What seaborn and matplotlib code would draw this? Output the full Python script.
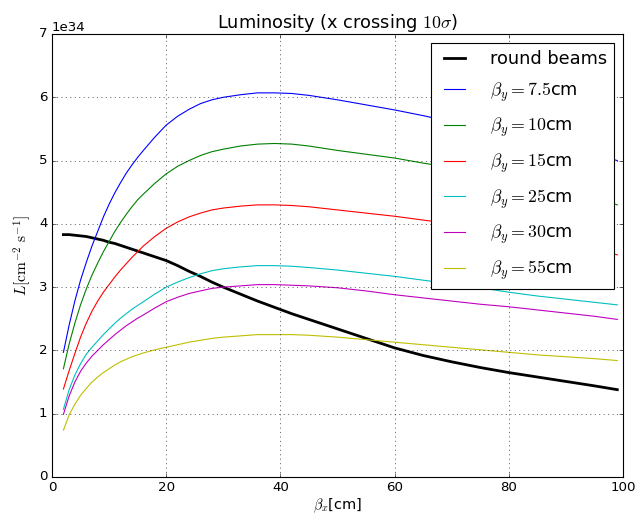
import matplotlib
matplotlib.use("Agg")
import matplotlib.pyplot as plt
import seaborn as sns
import numpy as np
import pandas as pd

plt.style.use("classic")
plt.rcParams["mathtext.fontset"] = "cm"

# beta_x values [cm]
beta_x = [2, 3, 4, 5, 6, 7, 8, 9, 10, 11, 12, 13, 14, 15, 16, 18, 20, 22, 24, 26,
          28, 30, 33, 36, 39, 42, 45, 50, 55, 60, 65, 70, 75, 80, 85, 90, 95, 99]

# luminosity in units of 1e34 cm^-2 s^-1
round_beams = [3.83, 3.83, 3.82, 3.81, 3.80, 3.78, 3.76, 3.74, 3.71, 3.69, 3.66, 3.63, 3.60, 3.57, 3.54,
               3.48, 3.42, 3.34, 3.25, 3.17, 3.08, 3.00, 2.89, 2.78, 2.68, 2.58, 2.49, 2.34, 2.19, 2.04,
               1.92, 1.82, 1.73, 1.65, 1.58, 1.51, 1.44, 1.38]
by_7p5 = [1.97, 2.40, 2.78, 3.11, 3.39, 3.65, 3.88, 4.11, 4.31, 4.49, 4.65, 4.80, 4.93, 5.05, 5.16,
          5.37, 5.56, 5.70, 5.81, 5.90, 5.96, 6.00, 6.04, 6.07, 6.07, 6.06, 6.03, 5.96, 5.88, 5.80,
          5.71, 5.61, 5.51, 5.41, 5.31, 5.20, 5.10, 5.00]
by_10 = [1.71, 2.10, 2.43, 2.72, 2.97, 3.19, 3.38, 3.56, 3.72, 3.88, 4.02, 4.15, 4.27, 4.38, 4.47,
         4.64, 4.79, 4.91, 5.00, 5.08, 5.14, 5.18, 5.23, 5.26, 5.27, 5.26, 5.23, 5.16, 5.10, 5.04,
         4.96, 4.89, 4.81, 4.72, 4.62, 4.52, 4.41, 4.30]
by_15 = [1.39, 1.68, 1.95, 2.21, 2.43, 2.62, 2.78, 2.92, 3.04, 3.16, 3.27, 3.37, 3.47, 3.56, 3.65,
         3.80, 3.93, 4.03, 4.11, 4.17, 4.22, 4.25, 4.28, 4.30, 4.30, 4.29, 4.27, 4.22, 4.17, 4.12,
         4.06, 4.00, 3.93, 3.86, 3.78, 3.70, 3.61, 3.51]
by_25 = [1.07, 1.38, 1.61, 1.79, 1.94, 2.05, 2.15, 2.25, 2.34, 2.43, 2.51, 2.58, 2.65, 2.71, 2.77,
         2.89, 3.00, 3.08, 3.15, 3.21, 3.26, 3.29, 3.32, 3.34, 3.34, 3.33, 3.31, 3.27, 3.22, 3.17,
         3.11, 3.05, 2.99, 2.92, 2.86, 2.81, 2.76, 2.72]
by_30 = [0.99, 1.28, 1.50, 1.67, 1.80, 1.91, 2.00, 2.09, 2.17, 2.25, 2.32, 2.39, 2.45, 2.51, 2.56,
         2.67, 2.77, 2.84, 2.90, 2.94, 2.98, 3.00, 3.02, 3.04, 3.04, 3.03, 3.02, 2.99, 2.94, 2.88,
         2.83, 2.78, 2.73, 2.69, 2.64, 2.59, 2.54, 2.49]
by_55 = [0.74, 0.98, 1.15, 1.29, 1.40, 1.50, 1.58, 1.65, 1.71, 1.77, 1.82, 1.86, 1.90, 1.93, 1.96,
         2.01, 2.05, 2.09, 2.13, 2.16, 2.19, 2.21, 2.23, 2.25, 2.25, 2.25, 2.24, 2.21, 2.17, 2.13,
         2.09, 2.05, 2.01, 1.97, 1.93, 1.90, 1.87, 1.84]

labels = ["round beams", r"$\beta_y=7.5$cm", r"$\beta_y=10$cm", r"$\beta_y=15$cm",
          r"$\beta_y=25$cm", r"$\beta_y=30$cm", r"$\beta_y=55$cm"]
series = [round_beams, by_7p5, by_10, by_15, by_25, by_30, by_55]
colors = ["k", "b", "g", "r", "c", "m", "y"]
widths = [2.5, 1.0, 1.0, 1.0, 1.0, 1.0, 1.0]
SCALE = 1e34

fig = plt.figure(figsize=(638 / 80, 517 / 80), dpi=80, facecolor="white")
ax = fig.add_axes([52 / 638, 40 / 517, 571 / 638, 443 / 517])

for lab, vals, col, lw in zip(labels, series, colors, widths):
    df = pd.DataFrame({"bx": beta_x, "L": np.array(vals) * SCALE})
    sns.lineplot(data=df, x="bx", y="L", ax=ax, color=col, lw=lw, label=lab)

ax.set_xlim(0, 100)
ax.set_ylim(0, 7e34)
ax.set_xticks([0, 20, 40, 60, 80, 100])
ax.set_yticks([i * 1e34 for i in range(8)])
ax.grid(True)
ax.set_title(r"Luminosity (x crossing $10\sigma$)", fontsize=16)
ax.set_xlabel(r"$\beta_x$[cm]", fontsize=13, labelpad=2)
ax.set_ylabel(r"$L[\mathrm{cm}^{-2}\ \mathrm{s}^{-1}]$", fontsize=14)
leg = ax.legend(loc="upper right", fontsize=16, fancybox=False, labelspacing=0.7,
                handlelength=1.8, handletextpad=1.1)
leg.get_frame().set_edgecolor("k")

fig.savefig("out.png", dpi=80, facecolor="white")
